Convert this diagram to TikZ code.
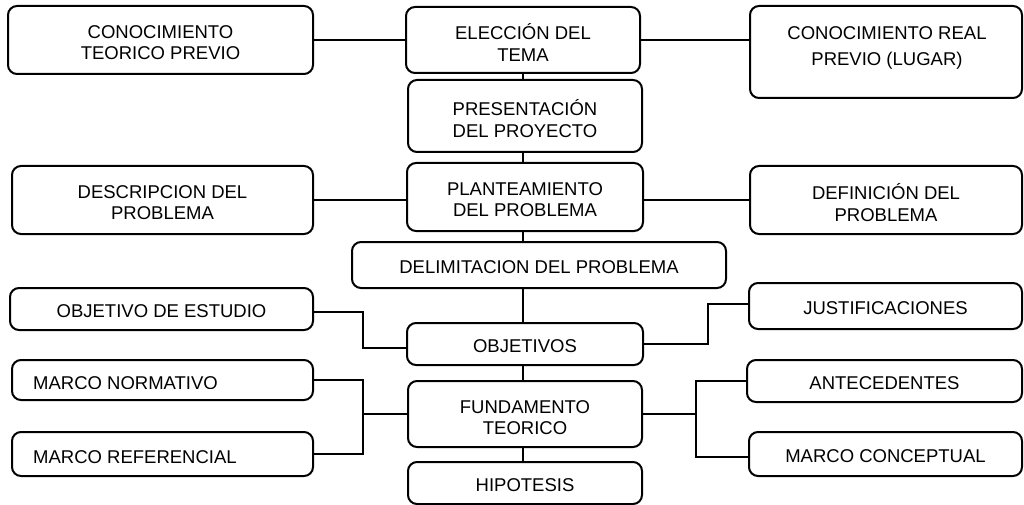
\documentclass[tikz,border=0pt]{standalone}
\usepackage{fontspec}
\setmainfont{Liberation Sans}
\newcommand{\mybox}[6]{%
  \node[box, minimum width={#3pt-#2pt}, minimum height={#5pt-#4pt}] (#1) at ({(#2+#3)/2},{(#4+#5)/2}) {};
  \node[lbl, yshift=-2.5pt] (#1t) at (#1.center) {#6};}
\begin{document}
\begin{tikzpicture}[x=1pt,y=-1pt,
  box/.style={draw, line width=2pt, rounded corners=9pt, inner sep=0pt},
  lbl/.style={inner sep=0pt, align=center, font=\fontsize{18.5}{21.5}\selectfont},
  conn/.style={line width=2pt}]
\useasboundingbox[fill=white] (0,0) rectangle (1024,505);

\mybox{tp}{8}{313}{6}{74}{CONOCIMIENTO\\TEORICO PREVIO}
\mybox{el}{406}{640}{7}{73}{ELECCIÓN DEL\\TEMA}
\mybox{cr}{750}{1022}{6}{98}{}
\node[lbl, font=\fontsize{18.5}{25.5}\selectfont] (crt) at (887,48) {CONOCIMIENTO REAL\\PREVIO (LUGAR)};
\mybox{pr}{408}{642}{80}{152}{PRESENTACIÓN\\DEL PROYECTO}
\mybox{de}{12}{313}{166}{234}{DESCRIPCION DEL\\PROBLEMA}
\mybox{pl}{407}{643}{163}{231}{PLANTEAMIENTO\\DEL PROBLEMA}
\mybox{df}{750}{1022}{166}{234}{DEFINICIÓN DEL\\PROBLEMA}
\mybox{dl}{352}{726}{242}{288}{DELIMITACION DEL PROBLEMA}
\mybox{oe}{10}{313}{288}{330}{OBJETIVO DE ESTUDIO}
\mybox{ju}{749}{1022}{283}{329}{JUSTIFICACIONES}
\mybox{ob}{407}{643}{323}{365}{OBJETIVOS}
\mybox{mn}{12}{313}{360}{400}{}
\mybox{fu}{408}{642}{381}{447}{}
\mybox{an}{747}{1022}{360}{402}{ANTECEDENTES}
\mybox{mr}{12}{313}{432}{476}{}
\mybox{mc}{749}{1022}{432}{476}{MARCO CONCEPTUAL}
\mybox{hi}{408}{642}{462}{504}{HIPOTESIS}

\begin{scope}
  \clip (0,0) rectangle (1024,388.3);
  \node[lbl, anchor=west] (mnt) at (33,383) {MARCO NORMATIVO};
\end{scope}
\node[lbl, anchor=west] (mrt) at (33,457) {MARCO REFERENCIAL};
\begin{scope}
  \clip (0,0) rectangle (1024,434.3);
  \node[lbl] (fut) at (525,417.5) {FUNDAMENTO\\TEORICO};
\end{scope}

\coordinate (jl) at (363,414);
\coordinate (jr) at (696,414);

\draw[conn] (tp.east) -- (tp.east -| el.west);
\draw[conn] (el.east) -- (el.east -| cr.west);
\draw[conn] (el.south) -- (el.south |- pr.north);
\draw[conn] (el.south |- pr.south) -- (el.south |- pl.north);
\draw[conn] (de.east) -- (de.east -| pl.west);
\draw[conn] (df.west -| pl.east) -- (df.west);
\draw[conn] (el.south |- pl.south) -- (el.south |- dl.north);
\draw[conn] (el.south |- dl.south) -- (el.south |- ob.north);
\draw[conn] ([yshift=-3pt]oe.east) -- ++(49,0) |- ([yshift=-4pt]ob.west);
\draw[conn] (ob.east) -- ++(64,0) |- ([yshift=2pt]ju.west);
\draw[conn] (el.south |- ob.south) -- (el.south |- fu.north);
\draw[conn] (el.south |- fu.south) -- (el.south |- hi.north);
\draw[conn] (mn.east) -| (jl) |- (mr.east);
\draw[conn] (jl) -- (fu.west);
\draw[conn] (fu.east) -- (jr);
\draw[conn] (jr) |- (an.west);
\draw[conn] (jr) |- ([yshift=-3pt]mc.west);
\end{tikzpicture}
\end{document}
